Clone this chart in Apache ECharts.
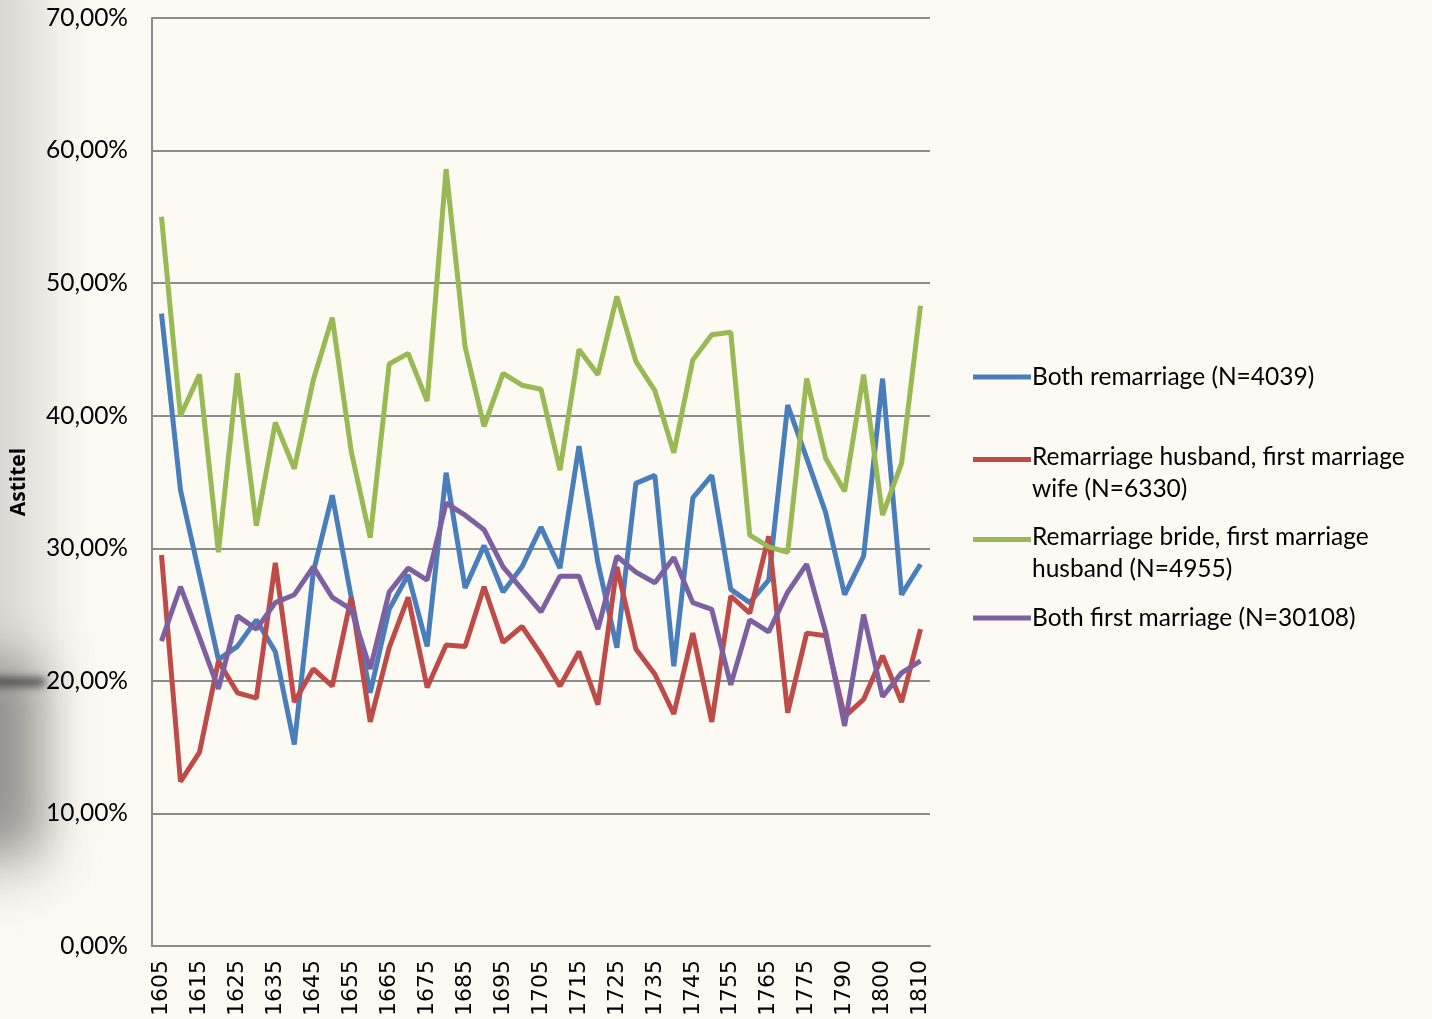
<!DOCTYPE html>
<html>
<head>
<meta charset="utf-8">
<script src="https://cdn.jsdelivr.net/npm/echarts@6/dist/echarts.min.js"></script>
<style>
  html, body { margin: 0; padding: 0; background: #fcfaf3; }
  #main { width: 1432px; height: 1019px; }
</style>
</head>
<body>
<div id="main"></div>
<script>
var years = ['1605', '1610', '1615', '1620', '1625', '1630', '1635', '1640', '1645', '1650',
  '1655', '1660', '1665', '1670', '1675', '1680', '1685', '1690', '1695', '1700',
  '1705', '1710', '1715', '1720', '1725', '1730', '1735', '1740', '1745', '1750',
  '1755', '1760', '1765', '1770', '1775', '1780', '1790', '1795', '1800', '1805', '1810'];

var bothRemarriage = [47.7, 34.4, 28.0, 21.6, 22.6, 24.6, 22.2, 15.2, 28.2, 34.0,
  26.3, 19.1, 25.4, 28.0, 22.6, 35.7, 27.0, 30.2, 26.7, 28.6,
  31.6, 28.5, 37.7, 28.9, 22.5, 34.9, 35.5, 21.1, 33.8, 35.5,
  26.9, 25.9, 27.6, 40.8, 36.8, 32.7, 26.5, 29.4, 42.8, 26.5, 28.8];

var remHusband = [29.5, 12.4, 14.6, 21.5, 19.1, 18.7, 28.9, 18.4, 20.9, 19.6,
  26.3, 16.9, 22.5, 26.3, 19.5, 22.7, 22.6, 27.1, 22.9, 24.1,
  22.0, 19.6, 22.2, 18.2, 28.6, 22.4, 20.5, 17.5, 23.6, 16.9,
  26.4, 25.1, 30.9, 17.6, 23.6, 23.4, 17.3, 18.6, 21.9, 18.4, 23.9];

var remBride = [55.0, 40.0, 43.1, 29.7, 43.2, 31.7, 39.5, 36.0, 42.7, 47.4,
  37.3, 30.8, 43.9, 44.7, 41.1, 58.6, 45.2, 39.2, 43.2, 42.3,
  42.0, 35.9, 45.0, 43.1, 49.0, 44.1, 41.9, 37.2, 44.2, 46.1,
  46.3, 31.0, 30.1, 29.7, 42.8, 36.8, 34.3, 43.1, 32.5, 36.4, 48.3];

var bothFirst = [23.0, 27.1, 23.3, 19.4, 24.9, 23.9, 25.9, 26.5, 28.6, 26.3,
  25.4, 20.9, 26.7, 28.5, 27.6, 33.4, 32.5, 31.4, 28.6, 26.9,
  25.2, 27.9, 27.9, 23.9, 29.4, 28.2, 27.4, 29.3, 25.9, 25.4,
  19.7, 24.6, 23.7, 26.7, 28.8, 23.7, 16.6, 25.0, 18.8, 20.6, 21.5];

var names = ['Both remarriage (N=4039)',
  'Remarriage husband, first marriage\nwife (N=6330)',
  'Remarriage bride, first marriage\nhusband (N=4955)',
  'Both first marriage (N=30108)'];
var colors = ['#4a7ebb', '#be4b48', '#98b954', '#7d60a0'];
var values = [bothRemarriage, remHusband, remBride, bothFirst];

var legendFont = { fontFamily: 'Lato', fontSize: 24.5, color: '#000', lineHeight: 32, padding: [0, 0, 0, -4] };
// single line icon, and a taller box with the line at its top for two-line names
var iconOne = 'path://M0,0 H58 V5 H0 Z';
var iconTwo = 'path://M0,0 H58 V5 H0 Z M0,32 H0.01 V32.01 H0 Z';
var legendTops = [356, 436, 516, 597];

var legends = names.map(function (n, i) {
  var two = n.indexOf('\n') >= 0;
  return {
    left: 968,
    top: legendTops[i],
    orient: 'vertical',
    itemWidth: 58,
    itemHeight: two ? 32 : 5,
    itemGap: 0,
    icon: two ? iconTwo : iconOne,
    textStyle: legendFont,
    data: [n]
  };
});

// soft paper shadow on the left edge: shape kept off-screen, only its blurred shadow shows
function shade(x, y, w, h, blur, color) {
  return {
    type: 'rect', z: -1, silent: true,
    shape: { x: x - 2000, y: y, width: w, height: h },
    style: { fill: '#000', shadowBlur: blur, shadowColor: color, shadowOffsetX: 2000 }
  };
}

var myChart = echarts.init(document.getElementById('main'));

var option = {
  backgroundColor: '#fcfaf3',
  animation: false,
  graphic: [
    shade(-80, -60, 120, 940, 60, 'rgba(150,150,145,0.35)'),
    shade(-70, 660, 110, 190, 50, 'rgba(90,90,85,0.55)'),
    shade(-40, 678, 85, 8, 8, 'rgba(40,40,40,0.8)')
  ],
  grid: { left: 152, right: 502, top: 18, bottom: 72 },
  legend: legends,
  xAxis: {
    type: 'category',
    data: years,
    boundaryGap: true,
    axisLine: { lineStyle: { color: '#8c8c8c', width: 2 } },
    axisTick: { show: false },
    axisLabel: {
      interval: 1,
      rotate: 90,
      margin: 14,
      fontFamily: 'DejaVu Sans',
      fontSize: 22,
      color: '#000'
    }
  },
  yAxis: {
    type: 'value',
    min: 0,
    max: 70,
    interval: 10,
    name: 'Astitel',
    nameLocation: 'middle',
    nameGap: 122,
    nameTextStyle: { fontFamily: 'Open Sans', fontWeight: 'bold', fontSize: 21, color: '#000' },
    axisLine: { show: true, lineStyle: { color: '#8c8c8c', width: 2 } },
    axisTick: { show: false },
    splitLine: { lineStyle: { color: '#8c8c8c', width: 2 } },
    axisLabel: {
      margin: 24,
      fontFamily: 'Lato',
      fontSize: 24.5,
      color: '#000',
      formatter: function (v) { return v.toFixed(2).replace('.', ',') + '%'; }
    }
  },
  series: names.map(function (n, i) {
    return {
      name: n,
      type: 'line',
      data: values[i],
      symbol: 'none',
      color: colors[i],
      lineStyle: { width: 5, color: colors[i] }
    };
  })
};

myChart.setOption(option);
window.onresize = function () {
  myChart.resize();
};
</script>
</body>
</html>
